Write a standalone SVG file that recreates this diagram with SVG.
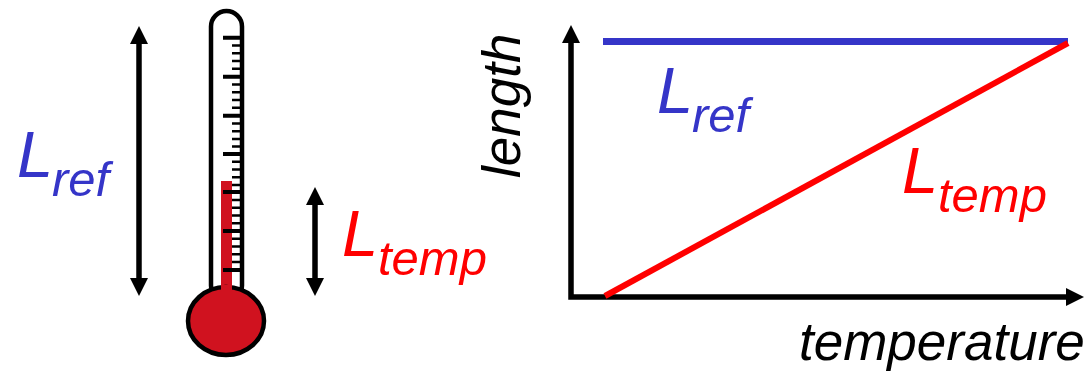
<svg xmlns="http://www.w3.org/2000/svg" width="1086" height="371" viewBox="0 0 1086 371">
<style>
text{font-family:"Liberation Sans",Arial,sans-serif;font-style:italic}
.b{fill:#3535c8}.r{fill:#f00}.k{fill:#000}
.big{font-size:65px}.sub{font-size:49px}.ax{font-size:53px}
.tick{stroke:#000;fill:none}
.arr{stroke:#000;stroke-width:5.500;fill:none}
</style>
<defs>
<marker id="head" markerUnits="userSpaceOnUse" markerWidth="20" markerHeight="18" refX="1" refY="9" orient="auto-start-reverse"><path d="M0 0L18 9L0 18Z" fill="#000"/></marker>
</defs>
<rect width="1086" height="371" fill="#fff"/>
<g id="thermometer">
<rect x="211" y="11" width="31" height="290" rx="15.5" fill="#fff" stroke="#000" stroke-width="4.5"/>
<rect x="221" y="181" width="11" height="115" fill="#d0121f"/>
<path class="tick" stroke-width="2.5" d="M232 45.500H240M232 53.300H240M232 61H240M232 68.800H240M232 84.500H240M232 92.300H240M232 100H240M232 107.800H240M232 123.500H240M232 131.200H240M232 138.900H240M232 146.600H240M232 161.700H240M232 169.500H240M232 177.200H240M232 184.900H240M232 200H240M232 207.800H240M232 215.500H240M232 223.300H240M232 238.800H240M232 246.600H240M232 254.300H240M232 262.100H240"/>
<path class="tick" stroke-width="4" d="M223 37.700H240M223 76.700H240M223 115.700H240M223 154H240M223 192H240M223 231H240M223 270H240"/>
<ellipse cx="226" cy="321" rx="38" ry="34" fill="#d0121f" stroke="#000" stroke-width="4.500"/>
<rect x="221" y="285" width="11" height="6" fill="#d0121f"/>
</g>
<g id="connectors">
<path class="arr" marker-start="url(#head)" marker-end="url(#head)" d="M139 43V279"/>
<path class="arr" marker-start="url(#head)" marker-end="url(#head)" d="M315 204V279"/>
<path d="M571 43V297H1066" fill="none" stroke="#000" stroke-width="5.500"/>
<path class="k" d="M571 25L580 43H562Z"/>
<path class="k" d="M1084 297L1066 288V306Z"/>
<path d="M603 41.500H1068" stroke="#3535c8" stroke-width="7" fill="none"/>
<path d="M605 296L1068 43" stroke="#f00" stroke-width="6" fill="none"/>
</g>
<g id="label-lref-left"><text x="17" y="177" class="big b">L</text><text x="52" y="195.500" class="sub b">ref</text></g>
<g id="label-ltemp-left"><text x="342" y="256" class="big r">L</text><text x="378" y="275" class="sub r">temp</text></g>
<g id="label-lref-right"><text x="657" y="113" class="big b">L</text><text x="692" y="131.500" class="sub b">ref</text></g>
<g id="label-ltemp-right"><text x="902" y="193" class="big r">L</text><text x="938" y="211.500" class="sub r">temp</text></g>
<g id="label-length"><text transform="translate(520 178) rotate(-90)" class="ax k">length</text></g>
<g id="label-temperature"><text x="799" y="360" class="ax k">temperature</text></g>
</svg>
